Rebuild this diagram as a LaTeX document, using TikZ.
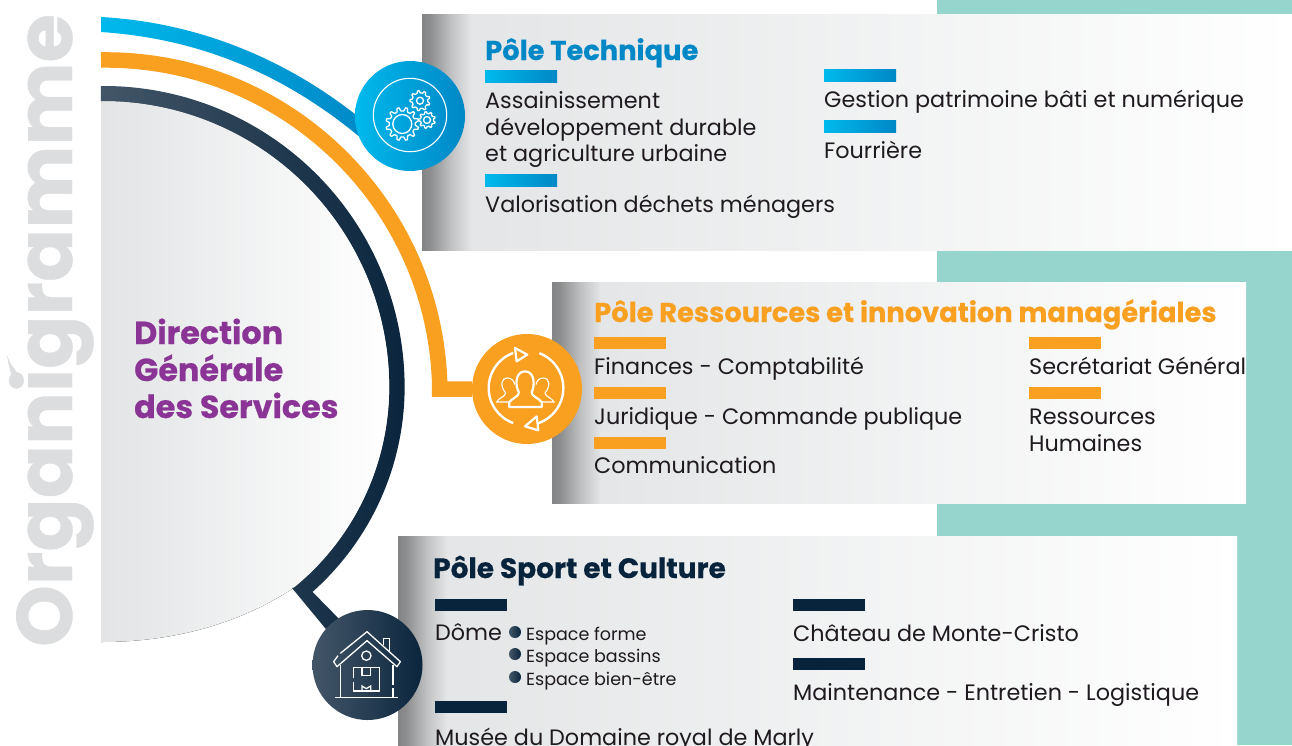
\documentclass[tikz,border=0pt]{standalone}
\usepackage{fontspec}
\setmainfont{Poppins}[BoldFeatures={FakeBold=0.5}]
\usepackage{xcolor}
\usetikzlibrary{positioning}

\definecolor{tealback}{HTML}{96D4CE}
\definecolor{polegrey}{HTML}{DCDDDE}
\definecolor{cardlight}{HTML}{E2E4E5}
\definecolor{blueL}{HTML}{00B9EC}
\definecolor{blueR}{HTML}{0087C6}
\definecolor{orangeband}{HTML}{FAA021}
\definecolor{navyL}{HTML}{435668}
\definecolor{navyR}{HTML}{0A253D}
\definecolor{navybar}{HTML}{07243C}
\definecolor{purpletitle}{HTML}{8A3595}
\definecolor{bodytext}{HTML}{1E1A1F}

\pgfdeclarehorizontalshading{cardedge}{100bp}{
  color(0bp)=(black!42!cardlight);
  color(25bp)=(black!42!cardlight);
  color(33bp)=(black!38!cardlight);
  color(55bp)=(black!15!cardlight);
  color(75bp)=(cardlight);
  color(100bp)=(cardlight)}

\newcommand{\gearicon}[4]{%
  \begin{scope}[shift={(#1,#2)}]
    \pgfmathsetmacro{\gearstep}{360/#4}
    \draw[iconline, line join=round] (0.2*\gearstep:0.79*#3)
      \foreach \i in {1,...,#4} {
        -- ({(\i-0.8)*\gearstep}:0.79*#3)
        -- ({(\i-0.62)*\gearstep}:#3)
        -- ({(\i-0.38)*\gearstep}:#3)
        -- ({(\i-0.2)*\gearstep}:0.79*#3)
      } -- cycle;
  \end{scope}}

\begin{document}
\begin{tikzpicture}[
    x=1pt, y=-1pt,
    card/.style={anchor=north west, inner sep=0pt, left color=cardlight, right color=white},
    edgeband/.style={anchor=north west, inner sep=0pt, minimum width=48pt, shading=cardedge},
    iconcircle/.style={circle, minimum size=110pt, inner sep=0pt},
    iconline/.style={draw=white, line width=1.3pt},
    bar/.style={anchor=north west, inner sep=0pt, minimum width=72pt, minimum height=12pt},
    bluebar/.style={bar, left color=blueL, right color=blueR},
    orangebar/.style={bar, fill=orangeband},
    navybarbox/.style={bar, fill=navybar},
    poletitle/.style={anchor=base west, inner sep=0pt, font=\fontsize{27.3}{27}\selectfont\bfseries},
    item/.style={anchor=base west, inner sep=0pt, text=bodytext, font=\fontsize{22.3}{27}\selectfont},
    subitem/.style={anchor=base west, inner sep=0pt, text=bodytext, font=\fontsize{17.5}{22}\selectfont},
    dirtitle/.style={anchor=base west, inner sep=0pt, text=purpletitle, font=\fontsize{31.8}{37}\selectfont\bfseries},
    dot/.style={circle, minimum size=12pt, inner sep=0pt, left color=navyL, right color=navyR}
]
\useasboundingbox (0,0) rectangle (1292,745);
\clip (0,0) rectangle (1292,745);

% Background
\fill[tealback] (937,0) rectangle (1292,745);

% Cards
\node[card, minimum width=870pt, minimum height=236pt] (cardtech) at (422,14) {};
\node[edgeband, minimum height=236pt] (edgetech) at (422,14) {};
\node[card, minimum width=694pt, minimum height=221pt] (cardres) at (552,282) {};
\node[edgeband, minimum height=221pt] (edgeres) at (552,282) {};
\node[card, minimum width=839pt, minimum height=209pt] (cardsport) at (398,536) {};
\node[edgeband, minimum height=209pt] (edgesport) at (398,536) {};

% Side title
\node[rotate=90, anchor=base west, inner sep=0pt, text=polegrey, font=\fontsize{78.5}{78}\selectfont\bfseries] (sidetitle) at (72,647) {Organigramme};
\fill[polegrey] (7,355) .. controls (9,368) and (12,380) .. (16,385) .. controls (20,386) and (23,382) .. (21,377) .. controls (16,372) and (10,364) .. (7,355) -- cycle;

% Disc
\fill[left color=cardlight, right color=white]
  (101,101) arc (-90.5:0:286) arc (0:50.7:259)
  .. controls (230,630) and (160,642) .. (101,642) -- cycle;

% Bands
\path[left color=blueL, right color=blueR]
  (101,17) .. controls (190,22) and (285,54) .. (372,128) -- (368,144)
  .. controls (280,68) and (190,38) .. (101,32) -- cycle;
\path[left color=navyL, right color=navyR]
  (101,86) arc (-90.5:0:301) arc (0:48.4:274) -- (345,625) -- (335,640) -- (292,588) -- (294.4,587.4)
  arc (50.7:0:259) arc (0:-90.5:286) -- cycle;

% Icons
\node[iconcircle, left color=blueL, right color=blueR] (icontech) at (410,116) {};
\node[iconcircle, left color=navyL, right color=navyR] (iconsport) at (367.5,665) {};
\node[iconcircle, fill=orangeband] (iconres) at (527,389) {};
\draw[orangeband, line width=15.5pt] (101,60) arc (-90.8:-2:334.2) |- (iconres);

% Gears
\draw[iconline, line width=1.1pt] (410,115) circle (36.7);
\gearicon{402.3}{124}{16.5}{12}
\draw[iconline] (402.3,124) circle (9.5);
\gearicon{420}{100.7}{10}{9}
\draw[iconline] (420,100.7) circle (3.5);
\gearicon{427}{120}{8.3}{9}
\draw[iconline] (427,120) circle (3.5);

% People
\begin{scope}[shift={(470,333)}, scale=1/3]
  \draw[white, line width=2.4pt] (168,165) ++(110:112) arc (110:250:112);
  \draw[white, line width=2.4pt] (168,165) ++(-69:112) arc (-69:72:112);
  \draw[white, line width=2.2pt, line join=round] (135,45) -- (172,65) -- (140,85) -- cycle;
  \draw[white, line width=2.2pt, line join=round] (200,250) -- (165,280) -- (205,292) -- cycle;
  \draw[white, line width=2.2pt, line join=round] (118,222) -- (215,222) -- (215,207)
    .. controls (205,195) and (185,190) .. (185,178) .. controls (195,160) and (195,115) .. (165,115)
    .. controls (135,115) and (135,160) .. (147,178) .. controls (147,190) and (128,195) .. (118,207) -- cycle;
  \draw[white, line width=1.1pt] (118,207) -- (80,207) .. controls (85,195) and (105,192) .. (107,180)
    .. controls (90,160) and (92,135) .. (113,135) .. controls (125,135) and (133,145) .. (134,155);
  \draw[white, line width=1.1pt] (215,207) -- (252,207) .. controls (247,195) and (227,192) .. (225,180)
    .. controls (242,160) and (240,135) .. (219,135) .. controls (207,135) and (199,145) .. (198,155);
\end{scope}

% House
\begin{scope}[shift={(312,610)}, scale=1/3]
  \draw[iconline, line join=round] (85,130) -- (165,65) -- (265,155) -- (255,170) -- (165,92) -- (75,170) -- (65,155) -- (78,137);
  \draw[iconline] (215,105) -- (215,85) -- (232,85) -- (232,122);
  \draw[iconline] (85,165) -- (85,262);
  \draw[iconline] (243,165) -- (243,225) (243,235) -- (243,262);
  \draw[iconline] (70,263) -- (258,263);
  \draw[iconline] (163,137) circle (14);
  \draw[iconline] (125,205) -- (125,172) -- (203,172) -- (203,243) -- (125,243) -- (125,215);
  \draw[iconline] (150,172) -- (150,197) -- (176,197) -- (176,172);
  \draw[iconline] (150,243) -- (150,228) -- (163,236) -- (176,228) -- (176,243);
\end{scope}

% Direction
\node[dirtitle] (dirone) at (134,344) {Direction};
\node[dirtitle] (dirtwo) at (134,381) {Générale};
\node[dirtitle] (dirthree) at (134,418) {des Services};

% Pole Technique
\node[poletitle, text=blueR] (titletech) at (485,60) {Pôle Technique};
\node[bluebar] (bartechA) at (485,70) {};
\node[item] (assainA) at (485,108) {Assainissement};
\node[item] (assainB) at (485,135) {développement durable};
\node[item] (assainC) at (485,161) {et agriculture urbaine};
\node[bluebar] (bartechB) at (485,174.5) {};
\node[item] (valor) at (485,212) {Valorisation déchets ménagers};
\node[bluebar] (bartechC) at (824,69) {};
\node[item] (gestion) at (824,107) {Gestion patrimoine bâti et numérique};
\node[bluebar] (bartechD) at (824,120) {};
\node[item] (fourriere) at (824,158) {Fourrière};

% Pole Ressources
\node[poletitle, text=orangeband] (titleres) at (594,322) {Pôle Ressources et innovation managériales};
\node[orangebar] (barresA) at (594,337) {};
\node[item] (finances) at (594,374) {Finances - Comptabilité};
\node[orangebar] (barresB) at (594,387) {};
\node[item] (juridique) at (594,424) {Juridique - Commande publique};
\node[orangebar] (barresC) at (594,436.5) {};
\node[item] (commun) at (594,473) {Communication};
\node[orangebar] (barresD) at (1029,337) {};
\node[item] (secret) at (1029,374) {Secrétariat Général};
\node[orangebar] (barresE) at (1029,387) {};
\node[item] (rhA) at (1029,424) {Ressources};
\node[item] (rhB) at (1029,451) {Humaines};

% Pole Sport
\node[poletitle, text=navybar, font=\fontsize{28}{27}\selectfont\bfseries] (titlesport) at (433,578) {Pôle Sport et Culture};
\node[navybarbox] (barsportA) at (435,599) {};
\node[item] (dome) at (435,640) {Dôme};
\node[dot] (dotA) at (515,632) {};
\node[dot] (dotB) at (515,654) {};
\node[dot] (dotC) at (515,677) {};
\node[subitem] (formeitem) at (526,640) {Espace forme};
\node[subitem] (bassins) at (526,662) {Espace bassins};
\node[subitem] (bienetre) at (526,685) {Espace bien-être};
\node[navybarbox] (barsportB) at (435,701) {};
\node[item] (musee) at (435,745) {Musée du Domaine royal de Marly};
\node[navybarbox] (barsportC) at (793,599) {};
\node[item] (chateau) at (793,641) {Château de Monte-Cristo};
\node[navybarbox] (barsportD) at (793,658) {};
\node[item] (mainten) at (793,700) {Maintenance - Entretien - Logistique};

\end{tikzpicture}
\end{document}
